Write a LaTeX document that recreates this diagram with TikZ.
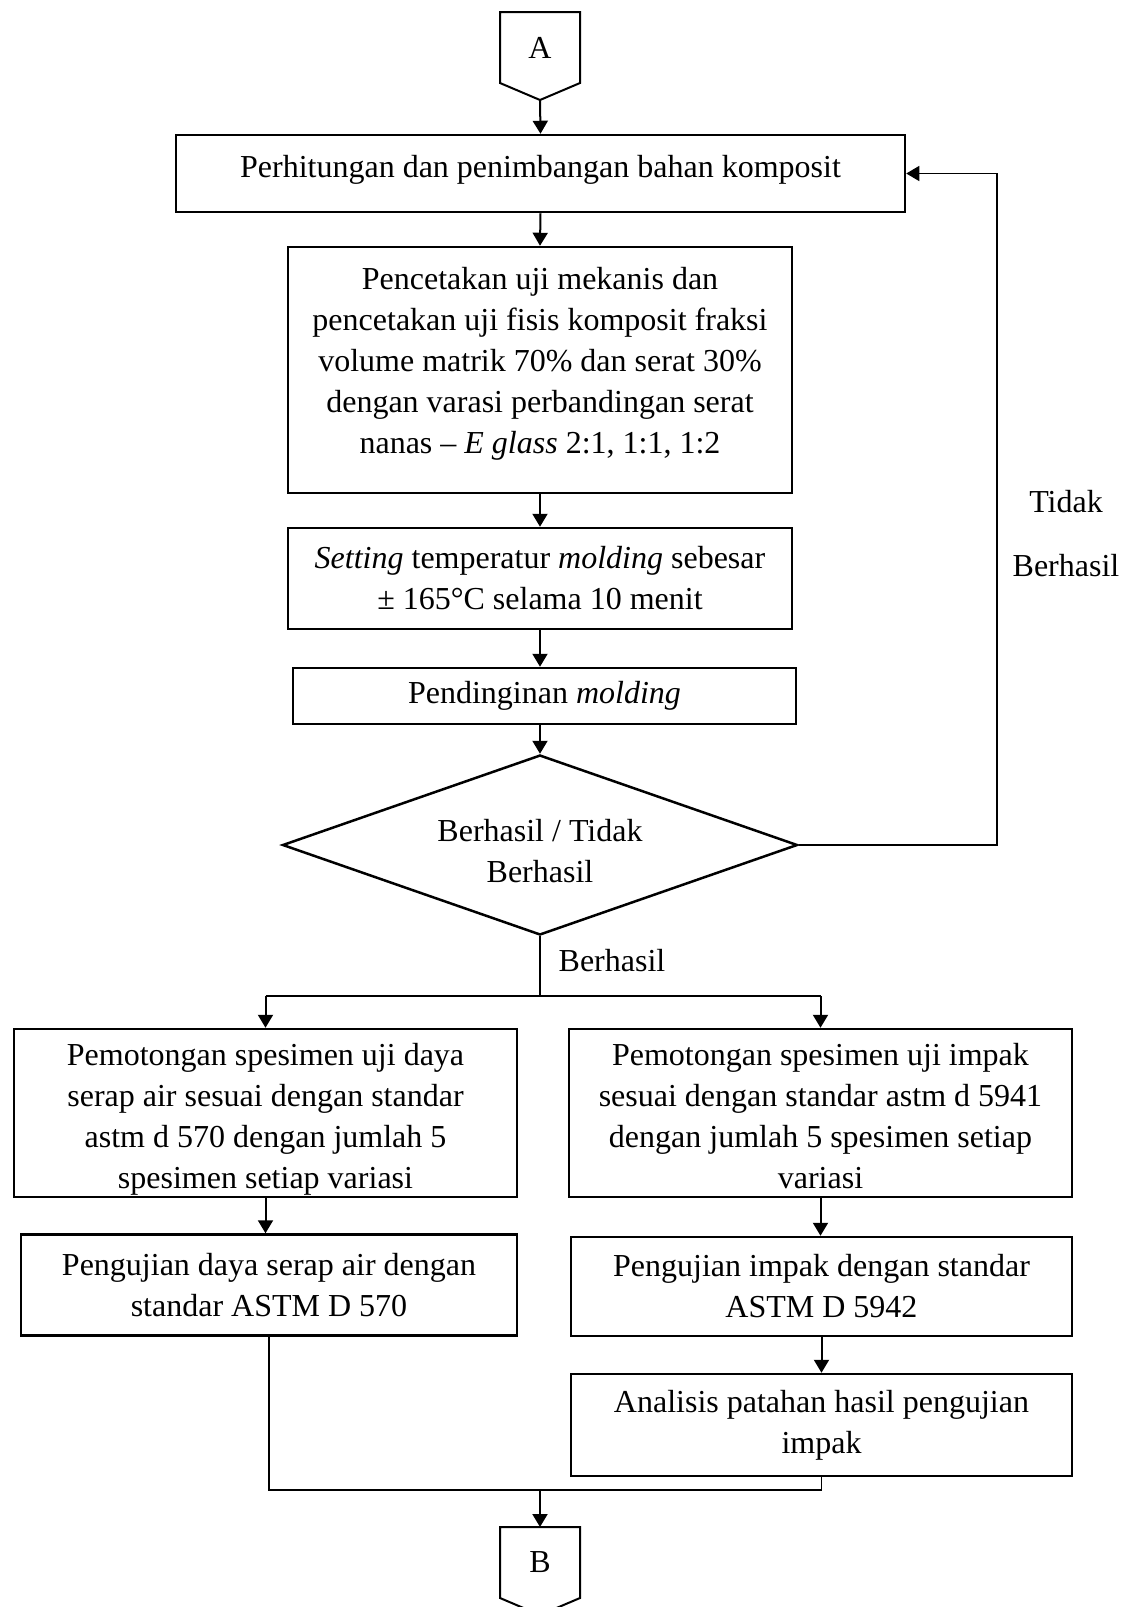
\documentclass[tikz,border=0pt]{standalone}
\usepackage{fontspec}
\setmainfont{Liberation Serif}
\usetikzlibrary{arrows.meta, shapes.geometric, calc}
\tikzset{
  every picture/.style={x=1pt, y=-1pt, line width=2pt},
  every node/.style={font=\fontsize{32}{41}\selectfont},
  box/.style={draw, rectangle, line width=2.5pt, align=center, inner sep=0pt},
  decision/.style={draw, diamond, line width=2.5pt, aspect=2.86, align=center, inner sep=0pt, minimum width=515pt, minimum height=180pt},
  connector/.style={inner sep=0pt, minimum width=78pt, minimum height=69pt},
  arrow/.style={-{Triangle[length=13pt, width=15pt]}, line width=2pt},
  link/.style={line width=1.4pt},
}

\begin{document}
\begin{tikzpicture}
  \useasboundingbox (0,0) rectangle (1129,1607);
  \clip (0,0) rectangle (1129,1607);
  \node[connector] (conA) at (540,47.5) {A};
  \draw (conA.north west) -- (conA.north east) -- (conA.south east) -- ([yshift=-17pt]conA.south) -- (conA.south west) -- cycle;
  \coordinate (conAtip) at ([yshift=-17pt]conA.south);
  \node[box, minimum width=729pt, minimum height=77pt, text depth=14pt] (calc) at (540.5,173.5) {Perhitungan dan penimbangan bahan komposit};
  \node[box, minimum width=504pt, minimum height=246pt] (mold) at (540,370) {Pencetakan uji mekanis dan\\pencetakan uji fisis komposit fraksi\\volume matrik 70\% dan serat 30\%\\dengan varasi perbandingan serat\\nanas -- \textit{E glass} 2:1, 1:1, 1:2\\[-22pt]\mbox{}};
  \node[box, minimum width=504pt, minimum height=101pt] (setting) at (540,578.5) {\textit{Setting} temperatur \textit{molding} sebesar\\± 165°C selama 10 menit};
  \node[box, minimum width=503pt, minimum height=56pt] (cool) at (544.5,696) {Pendinginan \textit{molding}};
  \node[decision] (dec) at (540,845) {\mbox{}\\[-7pt]Berhasil / Tidak\\Berhasil};
  \node[font=\fontsize{32}{64}\selectfont, align=center] (no) at (1066,534) {Tidak\\Berhasil};
  \node (yes) at (612,961) {Berhasil};
  \coordinate (loop) at (997,845);
  \coordinate (split) at (540,996);
  \node[box, minimum width=503pt, minimum height=168pt] (cut1) at (265.5,1113) {\mbox{}\\[-7pt]Pemotongan spesimen uji daya\\serap air sesuai dengan standar\\astm d 570 dengan jumlah 5\\spesimen setiap variasi};
  \node[box, minimum width=503pt, minimum height=168pt] (cut2) at (820.5,1113) {\mbox{}\\[-12pt]Pemotongan spesimen uji impak\\sesuai dengan standar astm d 5941\\dengan jumlah 5 spesimen setiap\\variasi};
  \node[box, minimum width=496pt, minimum height=101pt] (test1) at (269,1285) {Pengujian daya serap air dengan\\standar ASTM D 570};
  \node[box, minimum width=501pt, minimum height=99pt] (test2) at (821.5,1286.5) {Pengujian impak dengan standar\\ASTM D 5942};
  \node[box, minimum width=501pt, minimum height=102pt] (anal) at (821.5,1425) {Analisis patahan hasil pengujian\\impak};
  \coordinate (merge) at (540,1490);
  \node[connector] (conB) at (540,1562.5) {B};
  \draw (conB.north west) -- (conB.north east) -- (conB.south east) -- ([yshift=-17pt]conB.south) -- (conB.south west) -- cycle;

  \draw[arrow] (conAtip) -- (calc.north);
  \draw[arrow] (calc.south) -- (mold.north);
  \draw[arrow] (mold.south) -- (setting.north);
  \draw[arrow] (setting.south) -- (setting.south |- cool.north);
  \draw[arrow] (dec.north |- cool.south) -- (dec.north);
  \draw[link, -{Triangle[length=13pt, width=15pt]}] (dec.east) -- (loop) |- (calc.east);
  \draw[link] (dec.south) -- (split);
  \draw[link] (cut1.north |- split) -- (cut2.north |- split);
  \draw[arrow] (cut1.north |- split) -- (cut1.north);
  \draw[arrow] (cut2.north |- split) -- (cut2.north);
  \draw[arrow] (cut1.south) -- (cut1.south |- test1.north);
  \draw[arrow] (cut2.south) -- (cut2.south |- test2.north);
  \draw[arrow] (test2.south) -- (test2.south |- anal.north);
  \draw[link] (test1.south) |- (merge) -| (anal.south);
  \draw[arrow] (merge) -- (conB.north);
\end{tikzpicture}
\end{document}
